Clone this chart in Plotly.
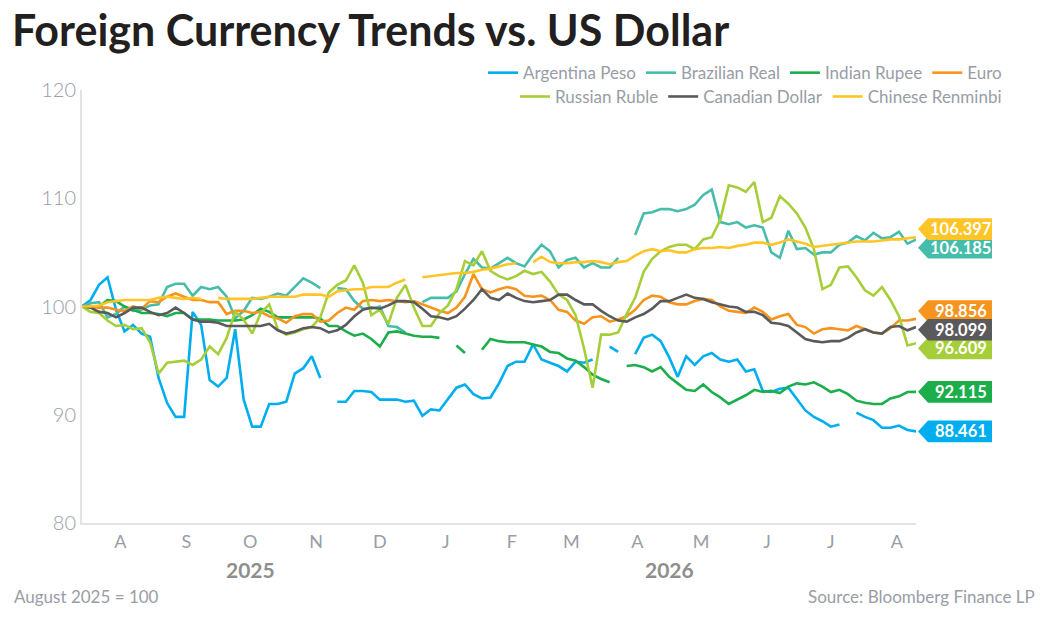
import pandas as pd
import plotly.graph_objects as go

# one point every 4 days, August 2025 = 100
dates = pd.date_range("2025-07-30", periods=99, freq="4D")

argentina = [100.0, 100.6, 102.0, 102.7, 99.7, 97.7, 98.3, 97.5, 97.2, 93.4,
             91.1, 89.8, 89.8, 99.5, 98.3, 93.2, 92.6, 93.4, 97.9, 91.4,
             88.9, 88.9, 91.0, 91.0, 91.2, 93.8, 94.3, 95.4, 93.4, None,
             91.2, 91.2, 92.2, 92.2, 92.1, 91.4, 91.4, 91.4, 91.2, 91.3,
             89.9, 90.5, 90.4, 91.4, 92.5, 92.8, 91.9, 91.5, 91.6, 92.9,
             94.5, 94.9, 94.9, 96.5, 95.1, 94.8, 94.5, 94.0, 94.9, 94.8,
             95.1, None, 96.3, 95.8, None, 95.6, 97.1, 97.4, 96.8, 95.3,
             93.5, 95.4, 94.6, 95.4, 95.7, 95.1, 94.9, 95.1, 94.0, 94.2,
             92.2, 92.1, 92.4, 92.5, 91.4, 90.4, 89.8, 89.4, 88.9, 89.1,
             None, 90.2, 89.8, 89.5, 88.8, 88.8, 89.0, 88.6, 88.461]

brazil = [100.0, 100.3, 100.4, 99.0, 99.3, 100.0, 99.6, 99.7, 100.1, 100.2,
          101.8, 102.1, 102.1, 101.0, 101.8, 101.6, 101.8, 100.9, 98.9, 99.6,
          100.8, 100.7, 100.9, 101.2, 101.0, 101.8, 102.6, 102.2, 101.7, None,
          101.7, 101.6, 100.5, 99.8, 99.8, 100.0, 98.2, 98.1, 97.6, None,
          100.4, 100.8, 100.8, 100.8, 101.4, 103.0, 104.4, 103.6, 103.5, 104.0,
          104.5, 104.0, 103.7, 104.8, 105.7, 105.1, 103.6, 104.3, 104.5, 103.6,
          104.0, 103.6, 103.6, 104.5, None, 106.6, 108.6, 108.7, 109.0, 109.0,
          108.8, 109.0, 109.4, 110.3, 110.8, 107.8, 107.6, 107.8, 107.3, 107.5,
          107.3, 105.0, 104.5, 107.0, 105.3, 105.4, 104.8, 105.0, 105.0, 105.7,
          105.9, 106.5, 106.1, 106.8, 106.3, 106.4, 106.9, 105.8, 106.185]

india = [100.0, 99.9, 100.0, 100.6, 100.5, 100.0, 99.7, 99.4, 99.4, 99.3,
         99.1, 99.4, 99.4, 98.8, 98.8, 98.8, 98.7, 98.7, 98.7, 98.8,
         99.2, 99.8, 99.5, 99.0, 99.0, 99.0, 99.0, 99.0, 98.9, 98.2,
         98.2, 97.7, 97.3, 97.5, 97.0, 96.3, 97.6, 97.7, 97.5, 97.3,
         97.2, 97.2, 97.1, None, 96.4, 95.7, None, 96.0, 97.0, 96.8,
         96.7, 96.7, 96.7, 96.5, 96.3, 95.8, 95.7, 95.2, 95.0, 94.4,
         93.7, 93.3, 93.0, None, 94.5, 94.6, 94.4, 94.0, 94.4, 93.5,
         92.9, 92.3, 92.2, 92.8, 92.1, 91.6, 91.0, 91.4, 91.8, 92.3,
         92.1, 92.2, 92.0, 92.6, 92.9, 92.8, 93.0, 92.6, 92.1, 92.3,
         91.9, 91.3, 91.1, 91.0, 91.0, 91.5, 91.7, 92.1, 92.115]

euro = [100.0, 100.0, 99.9, 99.9, 99.7, 99.6, 100.0, 99.8, 100.5, 100.4,
        100.9, 101.2, 100.9, 100.6, 100.6, 100.4, 100.4, 99.3, 99.6, 99.6,
        99.4, 99.5, 99.1, 98.9, 98.5, 99.1, 99.3, 99.3, 98.6, 98.7,
        99.4, 99.9, 99.7, 100.5, 100.6, 100.5, 100.6, 100.5, 100.4, 100.5,
        100.2, 99.9, 99.6, 99.4, 99.9, 100.9, 103.0, 101.6, 101.3, 101.6,
        101.8, 101.6, 101.0, 100.9, 101.0, 100.6, 99.7, 99.5, 98.7, 98.4,
        99.0, 99.1, 98.6, 98.8, 99.1, 99.7, 100.6, 101.0, 100.9, 100.4,
        100.2, 100.2, 100.5, 100.7, 100.6, 100.0, 99.6, 99.5, 99.4, 99.9,
        99.5, 98.8, 99.1, 99.3, 98.3, 98.1, 97.5, 97.9, 98.0, 97.9,
        97.8, 98.2, 97.9, 97.6, 97.5, 98.0, 98.7, 98.7, 98.856]

ruble = [100.0, 99.5, 99.4, 98.7, 98.2, 98.3, 97.9, 98.0, 96.7, 93.8,
         94.8, 94.9, 95.0, 94.6, 95.1, 96.3, 95.6, 97.1, 99.5, 98.8,
         97.5, 99.4, 100.2, 97.9, 97.4, 97.6, 97.9, 98.1, 99.0, 101.3,
         102.0, 102.4, 103.8, 102.2, 99.2, 99.7, 98.4, 100.8, 102.0, 99.9,
         98.2, 98.2, 99.4, 100.1, 101.6, 104.2, 103.8, 105.1, 103.3, 102.8,
         102.5, 102.8, 103.3, 103.0, 103.2, 102.3, 101.1, 100.6, 99.2, 96.1,
         92.5, 97.4, 97.4, 97.6, 99.3, 100.8, 103.2, 104.4, 105.1, 105.5,
         105.7, 105.7, 105.3, 106.2, 106.4, 108.0, 111.2, 111.0, 110.6, 111.5,
         107.8, 108.2, 110.2, 109.5, 108.6, 107.3, 105.3, 101.6, 102.0, 103.6,
         103.7, 102.7, 101.5, 101.0, 101.8, 100.6, 99.1, 96.4, 96.609]

cad = [100.0, 99.9, 99.5, 99.4, 99.0, 99.4, 99.9, 99.9, 99.5, 99.2,
       99.4, 99.9, 99.4, 98.8, 98.6, 98.6, 98.5, 98.2, 98.2, 98.2,
       98.2, 98.2, 98.4, 97.8, 97.5, 97.7, 98.0, 98.1, 98.0, 97.6,
       97.8, 98.3, 99.1, 99.7, 99.9, 99.8, 100.1, 100.5, 100.5, 100.4,
       99.8, 99.1, 99.0, 98.8, 99.1, 99.8, 100.6, 101.6, 100.8, 100.6,
       101.2, 100.8, 100.5, 100.4, 100.5, 100.6, 101.1, 101.1, 100.6, 100.2,
       100.2, 99.6, 99.1, 98.7, 98.6, 99.0, 99.3, 99.8, 100.5, 100.5,
       100.8, 101.1, 100.8, 100.7, 100.4, 100.2, 100.0, 99.9, 99.5, 99.5,
       99.2, 98.5, 98.4, 98.2, 97.6, 97.0, 96.8, 96.7, 96.8, 96.8,
       97.1, 97.6, 97.9, 97.6, 97.5, 98.1, 98.2, 97.8, 98.099]

renminbi = [100.0, 100.0, 100.1, 100.4, 100.5, 100.6, 100.6, 100.6, 100.6, 100.8,
            100.9, 100.8, 100.7, 100.8, 100.7, None, 100.8, 100.7, 100.7, 100.7,
            100.7, 100.8, 100.9, 100.9, 100.9, 100.9, 101.1, 101.1, 101.1, 100.9,
            101.4, 101.5, 101.6, 101.6, 101.8, 101.8, 101.8, 102.2, 102.5, None,
            102.7, 102.8, 102.9, 103.0, 103.1, 103.1, 103.2, 103.4, 103.5, 103.7,
            103.9, 104.0, None, 104.1, 104.6, 104.1, 104.0, 104.0, 104.1, 104.1,
            104.2, 104.1, 103.9, 104.1, 104.2, 104.7, 105.1, 105.3, 105.1, 105.2,
            105.0, 105.0, 105.3, 105.4, 105.4, 105.5, 105.4, 105.6, 105.7, 105.9,
            105.9, 105.7, 105.9, 106.2, 106.0, 105.8, 105.5, 105.6, 105.7, 105.8,
            105.9, 106.0, 106.0, 106.0, 106.1, 106.2, 106.2, 106.3, 106.397]

names = ["Argentina Peso", "Brazilian Real", "Indian Rupee", "Euro",
         "Russian Ruble", "Canadian Dollar", "Chinese Renminbi"]
series = [argentina, brazil, india, euro, ruble, cad, renminbi]
colors = ["#00AEEF", "#45BDAA", "#1BAE4B", "#F7941D",
          "#A6CE39", "#5A5A5C", "#FFC425"]

tick_dates = pd.date_range("2025-08-01", periods=13, freq="MS") + pd.Timedelta(days=16)
tick_text = ["A", "S", "O", "N", "D", "J", "F", "M", "A", "M", "J", "J", "A"]
years = ["2025", "2026"]
year_pos = ["2025-10-17", "2026-05-02"]

GRAY = "#989DA6"
NARROW = "Liberation Sans Narrow, Arial Narrow, Lato"


def spread(values, gap):
    # push end labels apart so they do not overlap
    order = sorted(range(len(values)), key=lambda i: -values[i])
    groups = [[i] for i in order]
    while True:
        pos = {}
        for g in groups:
            m = sum(values[i] for i in g) / len(g)
            for k, i in enumerate(g):
                pos[i] = m + gap * ((len(g) - 1) / 2 - k)
        for a in range(len(groups) - 1):
            if pos[groups[a][-1]] - pos[groups[a + 1][0]] < gap:
                groups[a] = groups[a] + groups.pop(a + 1)
                break
        else:
            return pos


fig = go.Figure()
for i, (name, ys, c) in enumerate(zip(names, series, colors)):
    fig.add_trace(go.Scatter(
        x=dates, y=ys, name=name, mode="lines",
        line=dict(color=c, width=2.6),
        legend="legend" if i < 4 else "legend2",
    ))

last = [s[-1] for s in series]
label_y = spread(last, 1.72)
half = 1.0
for i, (v, c) in enumerate(zip(last, colors)):
    yc = label_y[i]
    fig.add_shape(
        type="path", xref="paper", yref="y",
        path=(f"M 1.0024 {yc} L 1.0144 {yc + half} L 1.0911 {yc + half} "
              f"L 1.0911 {yc - half} L 1.0144 {yc - half} Z"),
        fillcolor=c, line=dict(width=0),
    )
    fig.add_annotation(
        x=1.0535, y=yc, xref="paper", yref="y", text=f"{v:.3f}",
        xanchor="center", yanchor="middle", showarrow=False,
        font=dict(family="Lato", size=16.5, color="white", weight="bold"),
    )

for t, p in zip(years, year_pos):
    fig.add_annotation(
        x=p, y=-0.107, xref="x", yref="paper", text=t, showarrow=False,
        xanchor="center", yanchor="middle",
        font=dict(family=NARROW, size=21, color="#8E8E8E", weight="bold"),
    )

fig.add_annotation(x=-0.0839, y=-0.169, xref="paper", yref="paper",
                   xanchor="left", yanchor="middle",
                   text="August 2025 = 100", showarrow=False,
                   font=dict(family=NARROW, size=17, color=GRAY))
fig.add_annotation(x=1.1451, y=-0.169, xref="paper", yref="paper",
                   xanchor="right", yanchor="middle",
                   text="Source: Bloomberg Finance LP", showarrow=False,
                   font=dict(family=NARROW, size=17, color=GRAY))

legend_style = dict(
    orientation="h", xanchor="right", yanchor="middle", x=1.1091,
    font=dict(family="Lato", size=17, color=GRAY), bgcolor="rgba(0,0,0,0)",
    itemwidth=30, itemclick=False,
)

# page body adds an 8px offset, so the figure is 8px smaller each way
fig.update_layout(
    width=1041, height=610,
    margin=dict(l=74, r=133, t=82, b=95, autoexpand=False),
    paper_bgcolor="white", plot_bgcolor="white",
    title=dict(text="<b>Foreign Currency Trends vs. US Dollar</b>",
               x=0.0038, xanchor="left", xref="container",
               y=0.963, yanchor="middle", yref="container",
               font=dict(family="Lato", size=43, color="#231F20", weight=900)),
    legend=dict(y=1.039, **legend_style),
    legend2=dict(y=0.984, **legend_style),
    xaxis=dict(
        range=[dates[0], dates[-1]], showgrid=False, zeroline=False,
        showline=True, linecolor="#E3E3E3", linewidth=2,
        tickvals=tick_dates, ticktext=tick_text, ticks="",
        ticklabelstandoff=1, automargin=False,
        tickfont=dict(family=NARROW, size=18, color=GRAY),
    ),
    yaxis=dict(
        range=[80, 120], tickvals=[80, 90, 100, 110, 120],
        showgrid=False, zeroline=False, automargin=False,
        showline=True, linecolor="#E3E3E3", linewidth=2, ticks="",
        ticklabelstandoff=0,
        tickfont=dict(family="Lato", size=20, color=GRAY, weight=300),
    ),
    showlegend=True,
)

fig.write_html("out.html")
